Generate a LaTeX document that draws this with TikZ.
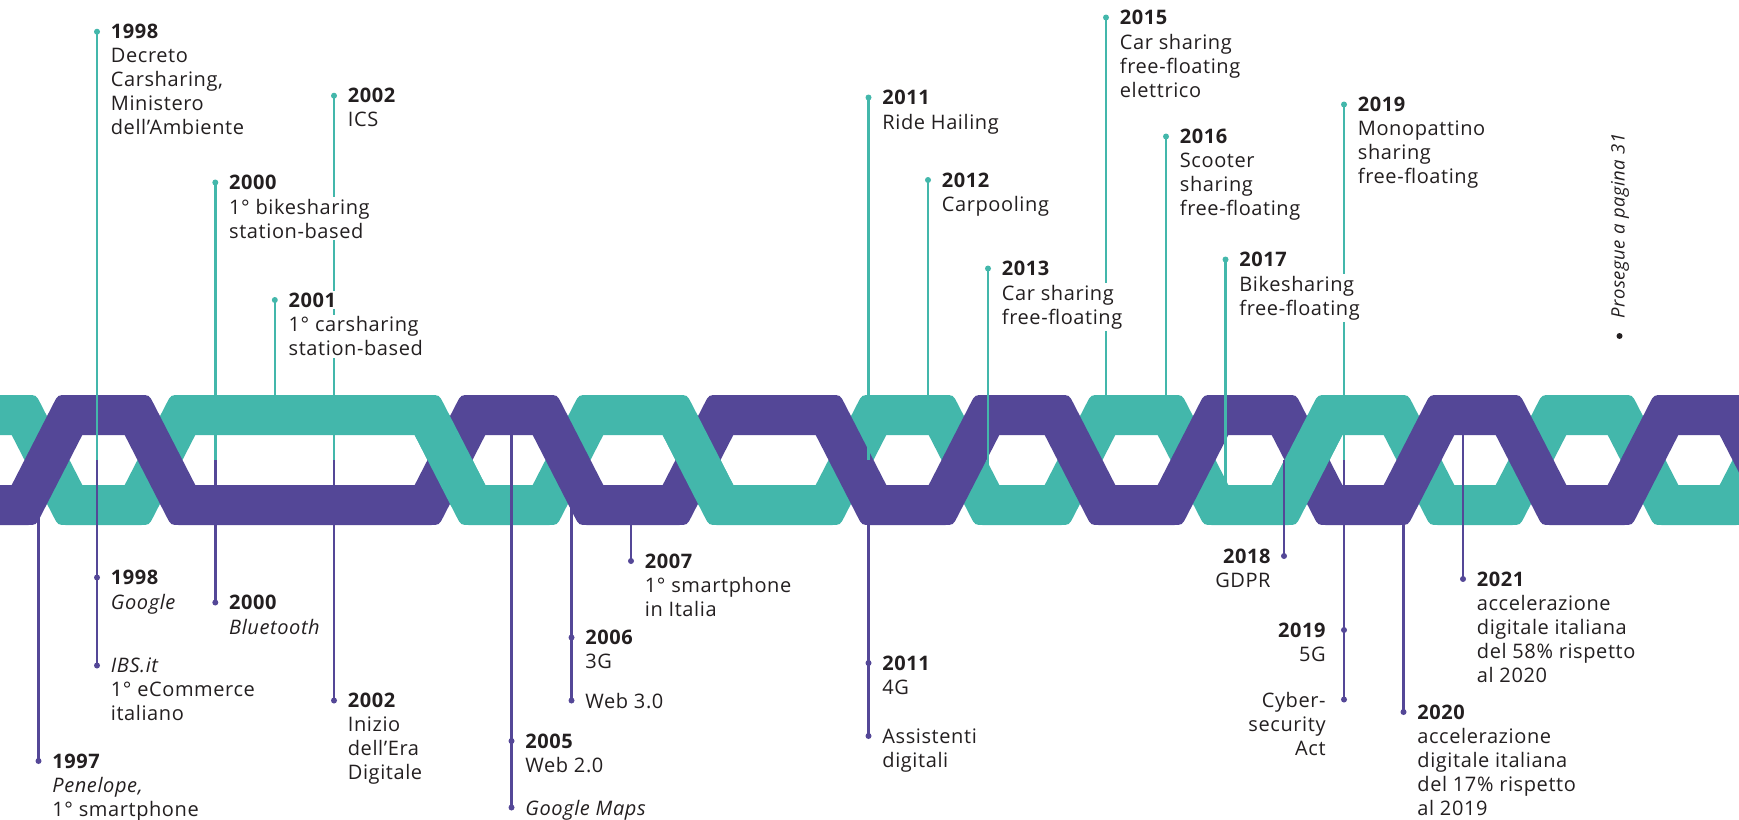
\documentclass[tikz,border=0pt]{standalone}
\usepackage{fontspec}
\setmainfont{Open Sans}[LetterSpace=3]
\definecolor{tealc}{HTML}{43B7AB}
\definecolor{purc}{HTML}{544797}
\definecolor{txt}{HTML}{231F20}
% band outline fragments (image px, y downwards)
\newcommand\bandUA[1]{-- ({#1-35.3},485) -- ({#1+6.75},403) .. controls ({#1+10.85},395) .. ({#1+19.85},395)}
\newcommand\bandUD[1]{-- ({#1-19.85},395) .. controls ({#1-10.85},395) .. ({#1-6.75},403) -- ({#1+35.3},485)}
\newcommand\bandLA[1]{-- ({#1+35.3},435) -- ({#1-6.75},517) .. controls ({#1-10.85},525) .. ({#1-19.85},525)}
\newcommand\bandLD[1]{-- ({#1+19.85},525) .. controls ({#1+10.85},525) .. ({#1+6.75},517) -- ({#1-35.3},435)}
\newcommand\overD[1]{({#1-45.58},415) -- ({#1-0.58},415) -- ({#1+45.58},505) -- ({#1+0.58},505) -- cycle}
\newcommand\overA[1]{({#1-45.58},505) -- ({#1-0.58},505) -- ({#1+45.58},415) -- ({#1+0.58},415) -- cycle}
\begin{document}
\begin{tikzpicture}[x=0.5pt,y=-0.5pt,
  yr/.style={font=\fontsize{10pt}{12pt}\selectfont\bfseries, text=txt, fill=white, inner sep=1pt},
  ds/.style={font=\fontsize{10pt}{12pt}\selectfont, text=txt, fill=white, inner sep=1pt, align=left},
  dsr/.style={ds, align=right},
  tstem/.style={draw=tealc, line width=1.3pt},
  pstem/.style={draw=purc, line width=1.3pt},
  tdot/.style={circle, fill=tealc, inner sep=0pt, minimum size=3pt},
  pdot/.style={circle, fill=purc, inner sep=0pt, minimum size=3pt}]
\useasboundingbox (0,0) rectangle (1739,819);
\fill[white] (0,0) rectangle (1739,819);
% ---- ribbons
\fill[tealc] (-60,395) \bandUD{47} \bandUA{160} \bandUD{450} \bandUA{568} \bandUD{698} \bandUA{851} \bandUD{964} \bandUA{1080} \bandUD{1193} \bandUA{1307} \bandUD{1419} \bandUA{1531} \bandUD{1643} \bandUA{1755} -- (1800,395) -- (1800,435) \bandLA{1755} \bandLD{1643} \bandLA{1531} \bandLD{1419} \bandLA{1307} \bandLD{1193} \bandLA{1080} \bandLD{964} \bandLA{851} \bandLD{698} \bandLA{568} \bandLD{450} \bandLA{160} \bandLD{47} -- (-60,435) -- cycle;
\fill[purc] (-60,485) \bandUA{47} \bandUD{160} \bandUA{450} \bandUD{568} \bandUA{698} \bandUD{851} \bandUA{964} \bandUD{1080} \bandUA{1193} \bandUD{1307} \bandUA{1419} \bandUD{1531} \bandUA{1643} \bandUD{1755} -- (1800,485) -- (1800,525) \bandLD{1755} \bandLA{1643} \bandLD{1531} \bandLA{1419} \bandLD{1307} \bandLA{1193} \bandLD{1080} \bandLA{964} \bandLD{851} \bandLA{698} \bandLD{568} \bandLA{450} \bandLD{160} \bandLA{47} -- (-60,525) -- cycle;
% teal passes over purple here
\fill[tealc] \overD{450};
\fill[tealc] \overD{698};
\fill[tealc] \overA{1307};
% ---- top events (teal)
\node[tdot] (t1d) at (97,31.7) {};      \coordinate (t1e) at (97,460);
\node[tdot] (t2d) at (334,95.7) {};     \coordinate (t2e) at (334,460);
\node[tdot] (t3d) at (215.3,182.5) {};  \coordinate (t3e) at (215.3,460);
\node[tdot] (t4d) at (274.8,300) {};    \coordinate (t4e) at (274.8,415);
\node[tdot] (t5d) at (868.5,97.5) {};   \coordinate (t5e) at (868.5,460);
\node[tdot] (t6d) at (928,180) {};      \coordinate (t6e) at (928,415);
\node[tdot] (t7d) at (988,268.5) {};    \coordinate (t7e) at (988,470);
\node[tdot] (t8d) at (1106,17.5) {};    \coordinate (t8e) at (1106,415);
\node[tdot] (t9d) at (1166,136.5) {};   \coordinate (t9e) at (1166,415);
\node[tdot] (t10d) at (1225.5,259.5) {};\coordinate (t10e) at (1225.5,485);
\node[tdot] (t11d) at (1344,104.5) {};  \coordinate (t11e) at (1344,460);
\foreach \i in {1,...,11} {\draw[tstem] (t\i d.center) -- (t\i e);}
% ---- bottom events (purple)
\coordinate (b1s) at (38.5,505);   \node[pdot] (b1d) at (38.5,761) {};
\coordinate (b2s) at (97,460);     \node[pdot] (b2d) at (97,577.5) {};   \node[pdot] (b2f) at (97,665.5) {};
\coordinate (b3s) at (215.3,460);  \node[pdot] (b3d) at (215.3,602.5) {};
\coordinate (b4s) at (334,460);    \node[pdot] (b4d) at (334,700.5) {};
\coordinate (b5s) at (511.5,425);  \node[pdot] (b5d) at (511.5,741) {};  \node[pdot] (b5f) at (511.5,807.5) {};
\coordinate (b6s) at (571.5,500);  \node[pdot] (b6d) at (571.5,637.5) {};\node[pdot] (b6f) at (571.5,700.5) {};
\coordinate (b7s) at (631,505);    \node[pdot] (b7d) at (631,561) {};
\coordinate (b8s) at (868.5,460);  \node[pdot] (b8d) at (868.5,663) {};  \node[pdot] (b8f) at (868.5,736) {};
\coordinate (b9s) at (1284,460);   \node[pdot] (b9d) at (1284,556) {};
\coordinate (b10s) at (1344,460);  \node[pdot] (b10d) at (1344,630) {};  \node[pdot] (b10f) at (1344,699.5) {};
\coordinate (b11s) at (1403.5,505);\node[pdot] (b11d) at (1403.5,712) {};
\coordinate (b12s) at (1463,425);  \node[pdot] (b12d) at (1463,579) {};
\foreach \i in {1,3,4,7,9,11,12} {\draw[pstem] (b\i s) -- (b\i d.center);}
\foreach \i in {2,5,6,8,10} {\draw[pstem] (b\i s) -- (b\i d.center) -- (b\i f.center);}
% ---- top texts
\node[yr,anchor=base west] (t1y) at (108.5,38.9) {1998};
\node[ds,anchor=north west] (t1t) at (108.5,45.9) {Decreto\\Carsharing,\\Ministero\\dell’Ambiente};
\node[yr,anchor=base west] (t2y) at (345.5,102.9) {2002};
\node[ds,anchor=north west] (t2t) at (345.5,109.9) {ICS};
\node[yr,anchor=base west] (t3y) at (226.8,189.7) {2000};
\node[ds,anchor=north west] (t3t) at (226.8,196.7) {1° bikesharing\\station-based};
\node[yr,anchor=base west] (t4y) at (286.3,307.2) {2001};
\node[ds,anchor=north west] (t4t) at (286.3,314.2) {1° carsharing\\station-based};
\node[yr,anchor=base west] (t5y) at (880,104.7) {2011};
\node[ds,anchor=north west] (t5t) at (880,111.7) {Ride Hailing};
\node[yr,anchor=base west] (t6y) at (939.5,187.2) {2012};
\node[ds,anchor=north west] (t6t) at (939.5,194.2) {Carpooling};
\node[yr,anchor=base west] (t7y) at (999.5,275.7) {2013};
\node[ds,anchor=north west] (t7t) at (999.5,282.7) {Car sharing\\free-floating};
\node[yr,anchor=base west] (t8y) at (1117.5,24.7) {2015};
\node[ds,anchor=north west] (t8t) at (1117.5,31.7) {Car sharing\\free-floating\\elettrico};
\node[yr,anchor=base west] (t9y) at (1177.5,143.7) {2016};
\node[ds,anchor=north west] (t9t) at (1177.5,150.7) {Scooter\\sharing\\free-floating};
\node[yr,anchor=base west] (t10y) at (1237,266.7) {2017};
\node[ds,anchor=north west] (t10t) at (1237,273.7) {Bikesharing\\free-floating};
\node[yr,anchor=base west] (t11y) at (1355.5,111.7) {2019};
\node[ds,anchor=north west] (t11t) at (1355.5,118.7) {Monopattino\\sharing\\free-floating};
% ---- bottom texts
\node[yr,anchor=base west] (b1y) at (50,768.2) {1997};
\node[ds,anchor=north west] (b1t) at (50,775.2) {\textit{Penelope,}\\1° smartphone};
\node[yr,anchor=base west] (b2y) at (108.5,584.7) {1998};
\node[ds,anchor=north west] (b2t) at (108.5,591.7) {\textit{Google}};
\node[ds,anchor=north west] (b2u) at (108.5,655.7) {\textit{IBS.it}\\1° eCommerce\\italiano};
\node[yr,anchor=base west] (b3y) at (226.8,609.7) {2000};
\node[ds,anchor=north west] (b3t) at (226.8,616.7) {\textit{Bluetooth}};
\node[yr,anchor=base west] (b4y) at (345.5,707.7) {2002};
\node[ds,anchor=north west] (b4t) at (345.5,714.7) {Inizio\\dell’Era\\Digitale};
\node[yr,anchor=base west] (b5y) at (523,748.2) {2005};
\node[ds,anchor=north west] (b5t) at (523,755.2) {Web 2.0};
\node[ds,anchor=north west] (b5u) at (523,797.7) {\textit{Google Maps}};
\node[yr,anchor=base west] (b6y) at (583,644.7) {2006};
\node[ds,anchor=north west] (b6t) at (583,651.7) {3G};
\node[ds,anchor=north west] (b6u) at (583,690.7) {Web 3.0};
\node[yr,anchor=base west] (b7y) at (642.5,568.2) {2007};
\node[ds,anchor=north west] (b7t) at (642.5,575.2) {1° smartphone\\in Italia};
\node[yr,anchor=base west] (b8y) at (880,670.2) {2011};
\node[ds,anchor=north west] (b8t) at (880,677.2) {4G};
\node[ds,anchor=north west] (b8u) at (880,726.2) {Assistenti\\digitali};
\node[yr,anchor=base east] (b9y) at (1273,563.2) {2018};
\node[dsr,anchor=north east] (b9t) at (1273,570.2) {GDPR};
\node[yr,anchor=base east] (b10y) at (1328,637.2) {2019};
\node[dsr,anchor=north east] (b10t) at (1328,644.2) {5G};
\node[dsr,anchor=north east] (b10u) at (1328,689.7) {Cyber-\\security\\Act};
\node[yr,anchor=base west] (b11y) at (1415,719.2) {2020};
\node[ds,anchor=north west] (b11t) at (1415,726.2) {accelerazione\\digitale italiana\\del 17\% rispetto\\al 2019};
\node[yr,anchor=base west] (b12y) at (1474.5,586.2) {2021};
\node[ds,anchor=north west] (b12t) at (1474.5,593.2) {accelerazione\\digitale italiana\\del 58\% rispetto\\al 2020};
% ---- continuation note
\node[font=\fontsize{9.25pt}{11pt}\selectfont\itshape, text=txt, rotate=90, inner sep=0pt] (more) at (1620,226) {Prosegue a pagina 31};
\node[circle, fill=txt, inner sep=0pt, minimum size=3pt] (bul) at (1619.5,336) {};
\end{tikzpicture}
\end{document}
